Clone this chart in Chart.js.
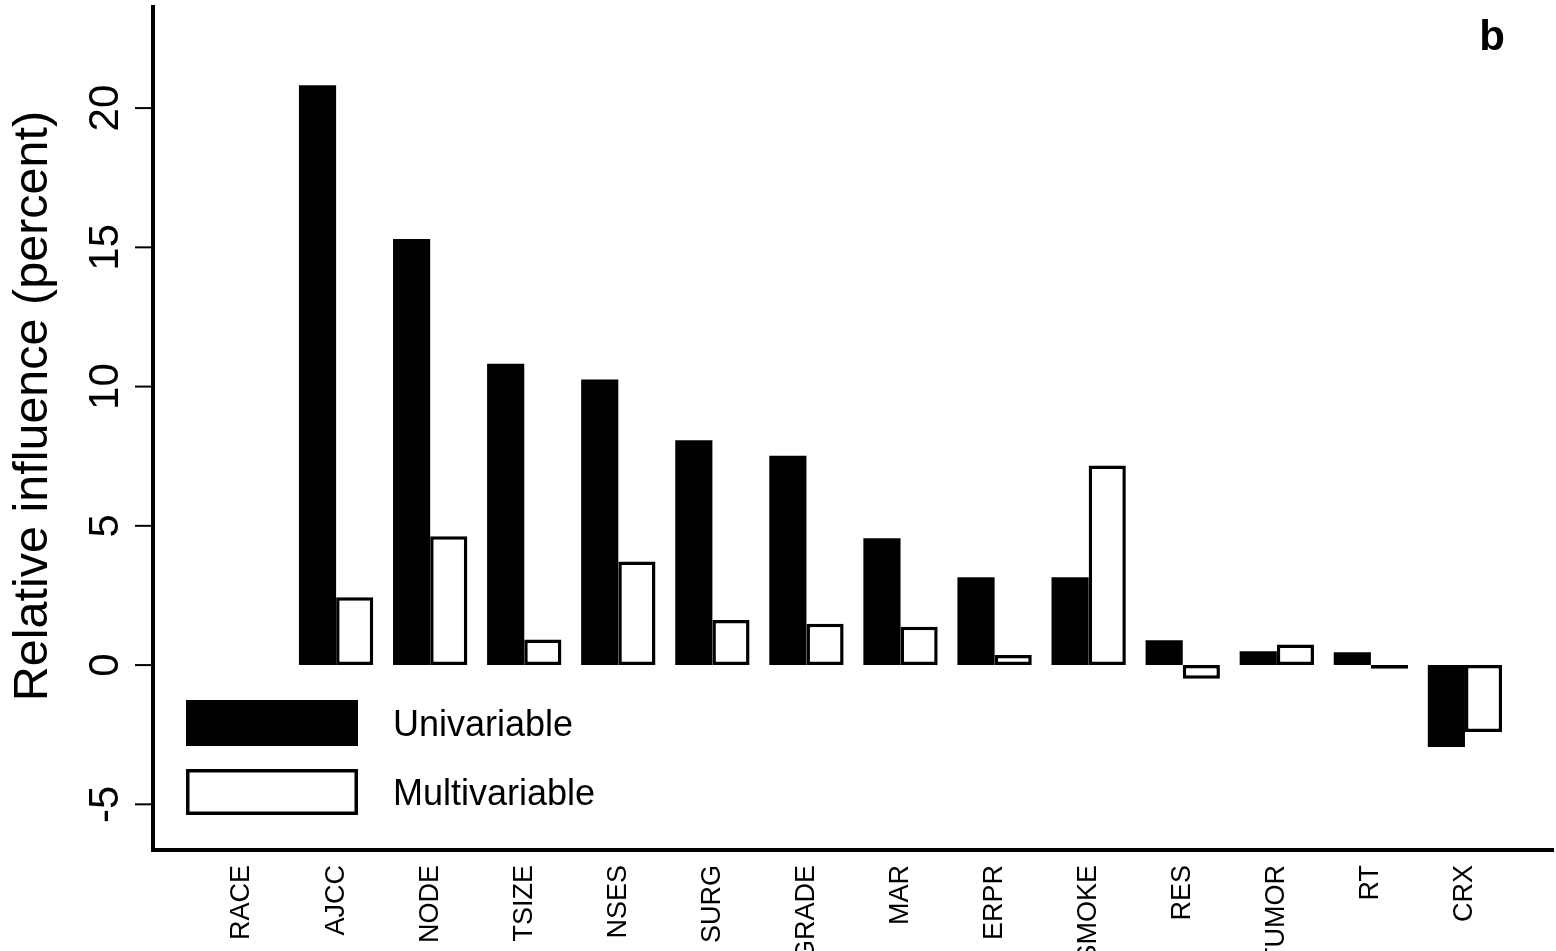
<!DOCTYPE html>
<html>
<head>
<meta charset="utf-8">
<script src="https://cdn.jsdelivr.net/npm/chart.js@4"></script>
<style>
  html, body { margin: 0; padding: 0; background: #fff; overflow: hidden; }
  #frame { width: 1556px; height: 951px; overflow: hidden; }
  #box { width: 1556px; height: 975px; position: relative; }
</style>
</head>
<body>
<div id="frame"><div id="box"><canvas id="chBars"></canvas></div></div>
<script>
/* relative influence bar chart */

// data
var categories = ['RACE', 'AJCC', 'NODE', 'TSIZE', 'NSES', 'SURG', 'GRADE', 'MAR', 'ERPR', 'SMOKE', 'RES', 'TUMOR', 'RT', 'CRX'];
var univariable = [null, 20.82, 15.3, 10.82, 10.25, 8.07, 7.52, 4.55, 3.15, 3.15, 0.89, 0.5, 0.46, -2.94];
var multivariable = [null, 2.44, 4.63, 0.92, 3.72, 1.62, 1.48, 1.38, 0.36, 7.17, -0.49, 0.74, -0.13, -2.4];
var yTicks = [-5, 0, 5, 10, 15, 20];
var yTitle = 'Relative influence (percent)';
var panelLabel = 'b';

var fontFamily = '"Liberation Sans", Arial, sans-serif';

// axes, rotated y labels, legend and panel letter (R style)
var rStylePlugin = {
  id: 'rStyle',
  afterDraw: function(chart) {
    var ctx = chart.ctx;
    var area = chart.chartArea;
    var y = chart.scales.y;
    var axisX = area.left - 42;

    ctx.save();
    ctx.strokeStyle = '#000';
    ctx.fillStyle = '#000';
    ctx.lineCap = 'square';

    // axis lines
    ctx.lineWidth = 4;
    ctx.beginPath();
    ctx.moveTo(axisX, area.top);
    ctx.lineTo(axisX, area.bottom);
    ctx.lineTo(area.right + 40, area.bottom);
    ctx.stroke();

    // y ticks + rotated labels
    ctx.lineWidth = 2;
    ctx.lineCap = 'butt';
    ctx.font = '42px ' + fontFamily;
    ctx.textAlign = 'center';
    ctx.textBaseline = 'alphabetic';
    yTicks.forEach(function(v) {
      var py = y.getPixelForValue(v);
      ctx.beginPath();
      ctx.moveTo(axisX - 18, py);
      ctx.lineTo(axisX, py);
      ctx.stroke();
      ctx.save();
      ctx.translate(axisX - 35, py);
      ctx.rotate(-Math.PI / 2);
      ctx.fillText(String(v), 0, 0);
      ctx.restore();
    });

    // y title
    ctx.save();
    ctx.font = '48.5px ' + fontFamily;
    ctx.translate(area.left - 148, y.getPixelForValue(9.3));
    ctx.rotate(-Math.PI / 2);
    ctx.fillText(yTitle, 0, 0);
    ctx.restore();

    // legend
    var lx = area.left - 9, lw = 172, lh = 46;
    var ly = [area.bottom - 150, area.bottom - 81];
    ctx.font = '36px ' + fontFamily;
    ctx.textAlign = 'left';
    ctx.textBaseline = 'middle';
    chart.data.datasets.forEach(function(ds, i) {
      var bw = ds.borderWidth || 0;
      ctx.fillStyle = ds.backgroundColor;
      ctx.fillRect(lx, ly[i], lw, lh);
      if (bw) {
        ctx.lineWidth = bw;
        ctx.strokeStyle = ds.borderColor;
        ctx.strokeRect(lx + bw / 2, ly[i] + bw / 2, lw - bw, lh - bw);
      }
      ctx.fillStyle = '#000';
      ctx.fillText(ds.label, lx + lw + 35, ly[i] + lh / 2 + 3);
    });

    // panel letter
    ctx.font = 'bold 42px ' + fontFamily;
    ctx.textAlign = 'center';
    ctx.textBaseline = 'alphabetic';
    ctx.fillText(panelLabel, area.right - 20, area.top + 43);

    ctx.restore();
  }
};

var chBars = document.getElementById('chBars');
if (chBars) {
  new Chart(chBars, {
    type: 'bar',
    data: {
      labels: categories,
      datasets: [
        {
          label: 'Univariable',
          data: univariable,
          backgroundColor: '#000',
          borderWidth: 0,
          barPercentage: 1,
          categoryPercentage: 0.79
        },
        {
          label: 'Multivariable',
          data: multivariable,
          backgroundColor: '#fff',
          borderColor: '#000',
          borderWidth: 3.5,
          borderSkipped: false,
          barPercentage: 1,
          categoryPercentage: 0.79
        }
      ]
    },
    options: {
      responsive: true,
      maintainAspectRatio: false,
      animation: false,
      devicePixelRatio: 1,
      layout: {padding: {left: 195, right: 44, top: 7, bottom: 0}},
      plugins: {
        legend: {display: false},
        tooltip: {enabled: false}
      },
      scales: {
        x: {
          grid: {display: false},
          border: {display: false},
          ticks: {
            color: '#000',
            font: {family: fontFamily, size: 27},
            minRotation: 90,
            maxRotation: 90,
            autoSkip: false,
            padding: 7
          },
          afterFit: function(scale) { scale.height = 125; }
        },
        y: {
          display: false,
          min: -6.64,
          max: 23.63
        }
      }
    },
    plugins: [rStylePlugin]
  });
}
</script>
</body>
</html>
